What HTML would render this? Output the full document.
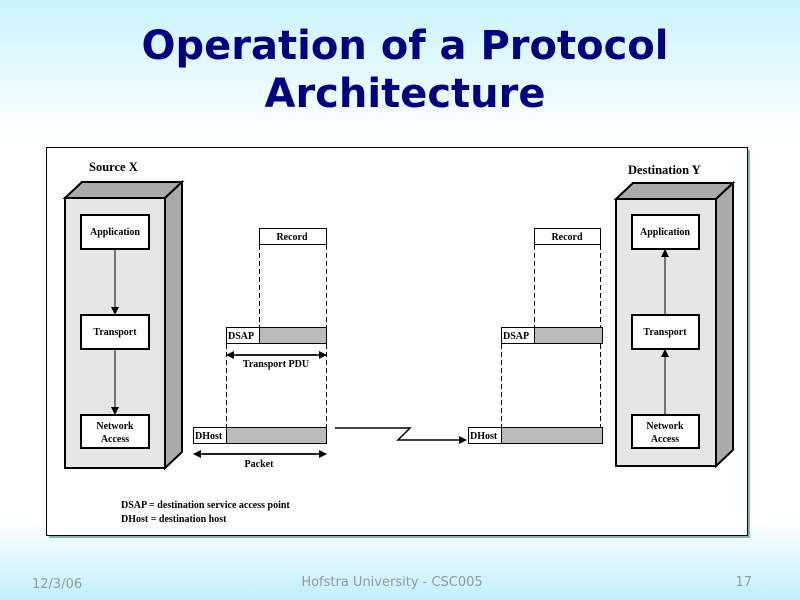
<!DOCTYPE html>
<html><head><meta charset="utf-8"><style>
body{margin:0;width:800px;height:600px;overflow:hidden;background:linear-gradient(#c8f4fc 0px,#ffffff 140px,#ffffff 520px,#c0f0fc 600px);font-family:"DejaVu Sans",sans-serif}
</style></head><body>
<svg width="800" height="600" xmlns="http://www.w3.org/2000/svg" style="position:absolute;left:0;top:0">
<defs><marker id="a" markerWidth="8" markerHeight="8" refX="7" refY="4" orient="auto" markerUnits="userSpaceOnUse"><path d="M0,0L8,4L0,8z" fill="#000"/></marker></defs>
<text x="405" y="59" text-anchor="middle" font-family="DejaVu Sans" font-weight="bold" font-size="40" fill="#000080">Operation of a Protocol</text>
<text x="405" y="107" text-anchor="middle" font-family="DejaVu Sans" font-weight="bold" font-size="40" fill="#000080">Architecture</text>
<rect x="49" y="150" width="701" height="388" fill="#80b8b8"/>
<rect x="46.5" y="147.5" width="701" height="388" fill="#fff" stroke="#000"/>
<g font-family="Liberation Serif" font-weight="bold" fill="#000">
<text x="89" y="171" font-size="12.5">Source X</text>
<text x="628" y="174" font-size="12.5">Destination Y</text>
<polygon points="65,198 82,182 182,182 165,198" fill="#aaa" stroke="#000" stroke-width="2"/>
<polygon points="165,198 182,182 182,452 165,468" fill="#aaa" stroke="#000" stroke-width="2"/>
<rect x="65" y="198" width="100" height="270" fill="#e6e6e6" stroke="#000" stroke-width="2"/>
<polygon points="616,199 633,183 733,183 716,199" fill="#aaa" stroke="#000" stroke-width="2"/>
<polygon points="716,199 733,183 733,450 716,466" fill="#aaa" stroke="#000" stroke-width="2"/>
<rect x="616" y="199" width="100" height="267" fill="#e6e6e6" stroke="#000" stroke-width="2"/>
<g fill="#fff" stroke="#000" stroke-width="2">
<rect x="81" y="215" width="68" height="34"/><rect x="81" y="315" width="68" height="34"/><rect x="81" y="415" width="68" height="33"/>
<rect x="632" y="215" width="67" height="34"/><rect x="632" y="315" width="67" height="34"/><rect x="632" y="415" width="67" height="33"/>
</g>
<g font-size="10" text-anchor="middle">
<text x="115" y="235">Application</text><text x="115" y="335">Transport</text><text x="115" y="429">Network</text><text x="115" y="442">Access</text>
<text x="665" y="235">Application</text><text x="665" y="335">Transport</text><text x="665" y="429">Network</text><text x="665" y="442">Access</text>
</g>
<g stroke="#000" stroke-width="1">
<line x1="115" y1="249" x2="115" y2="314" marker-end="url(#a)"/>
<line x1="115" y1="349" x2="115" y2="414" marker-end="url(#a)"/>
<line x1="665" y1="415" x2="665" y2="350" marker-end="url(#a)"/>
<line x1="665" y1="315" x2="665" y2="250" marker-end="url(#a)"/>
</g>
<g stroke="#000" stroke-width="1">
<rect x="259.5" y="228.5" width="67" height="16" fill="#fff"/>
<rect x="226.5" y="327.5" width="100" height="16" fill="#bbb"/><rect x="226.5" y="327.5" width="33" height="16" fill="#fff"/>
<rect x="193.5" y="427.5" width="133" height="16" fill="#bbb"/><rect x="193.5" y="427.5" width="33" height="16" fill="#fff"/>
<rect x="534.5" y="228.5" width="66" height="16" fill="#fff"/>
<rect x="501.5" y="327.5" width="101" height="16" fill="#bbb"/><rect x="501.5" y="327.5" width="33" height="16" fill="#fff"/>
<rect x="468.5" y="427.5" width="134" height="16" fill="#bbb"/><rect x="468.5" y="427.5" width="33" height="16" fill="#fff"/>
</g>
<g stroke="#000" stroke-dasharray="5,3">
<line x1="259.5" y1="245" x2="259.5" y2="327"/><line x1="326.5" y1="245" x2="326.5" y2="327"/>
<line x1="226.5" y1="344" x2="226.5" y2="427"/><line x1="326.5" y1="344" x2="326.5" y2="427"/>
<line x1="534.5" y1="245" x2="534.5" y2="327"/><line x1="600.5" y1="245" x2="600.5" y2="327"/>
<line x1="501.5" y1="344" x2="501.5" y2="427"/><line x1="600.5" y1="344" x2="600.5" y2="427"/>
</g>
<g stroke="#000" stroke-width="1.5">
<line x1="236" y1="355" x2="326" y2="355" marker-end="url(#a)"/><line x1="316" y1="355" x2="227" y2="355" marker-end="url(#a)"/>
<line x1="203" y1="454" x2="326" y2="454" marker-end="url(#a)"/><line x1="316" y1="454" x2="194" y2="454" marker-end="url(#a)"/>
<polyline points="335,428 410,428 398,440 466,440" fill="none" marker-end="url(#a)"/>
</g>
<g font-size="10">
<text x="292" y="240" text-anchor="middle">Record</text><text x="567" y="240" text-anchor="middle">Record</text>
<text x="228" y="339">DSAP</text><text x="503" y="339">DSAP</text>
<text x="195" y="439">DHost</text><text x="470" y="439">DHost</text>
<text x="276" y="367" text-anchor="middle">Transport PDU</text>
<text x="259" y="467" text-anchor="middle">Packet</text>
<text x="121" y="508">DSAP = destination service access point</text>
<text x="121" y="522">DHost = destination host</text>
</g>
</g>
<g font-family="DejaVu Sans" font-size="13" fill="#999">
<text x="32" y="588">12/3/06</text>
<text x="392" y="586" text-anchor="middle">Hofstra University - CSC005</text>
<text x="752" y="586" text-anchor="end">17</text>
</g>
</svg>
</body></html>
